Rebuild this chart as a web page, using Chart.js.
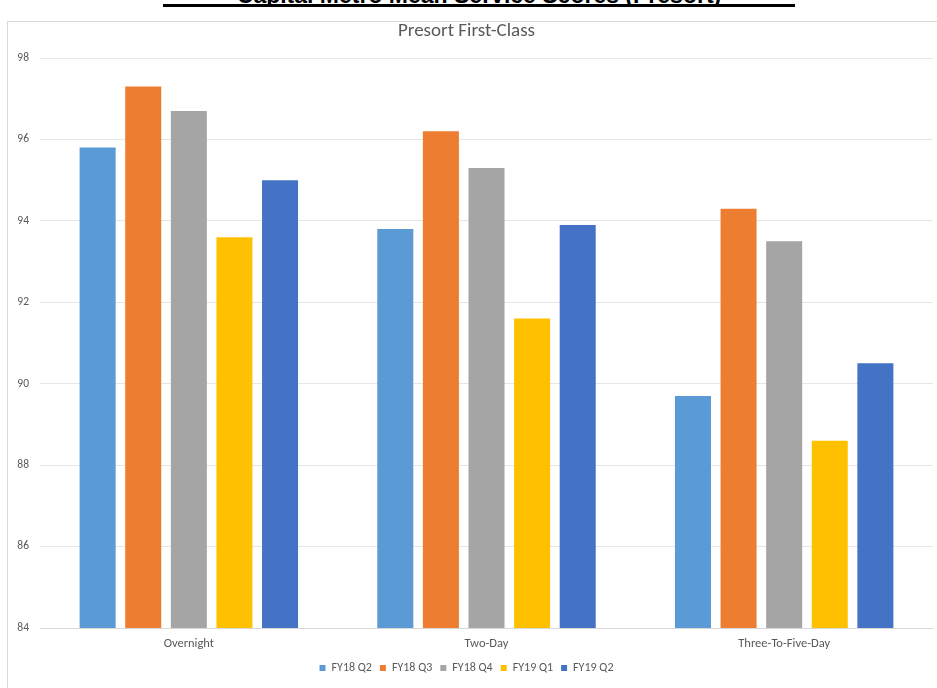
<!DOCTYPE html>
<html>
<head>
<meta charset="utf-8">
<script src="https://cdn.jsdelivr.net/npm/chart.js@4.4.1/dist/chart.umd.min.js"></script>
<style>
  html, body { margin: 0; padding: 0; background: #ffffff; overflow: hidden; }
  body { width: 937px; height: 688px; position: relative; }
  #frame { position: absolute; left: 7px; top: 21px; width: 940px; height: 680px;
           border-left: 1px solid #d9d9d9; border-top: 1px solid #d9d9d9; box-sizing: border-box; }
  #cut { position: absolute; left: 163px; top: 0; width: 632px; height: 4px; overflow: hidden;
         border-bottom: 3px solid #000; box-sizing: content-box; }
  #cut span { position: absolute; left: 0; width: 632px; bottom: -3px; text-align: center;
              font: bold 23px "Liberation Sans", Arial, sans-serif; color: #000; white-space: nowrap; line-height: 23px; }
  #wrap { position: absolute; left: 0; top: 0; width: 937px; height: 688px; }
</style>
</head>
<body>
<div id="frame"></div>
<div id="cut"><span>Capital Metro Mean Service Scores (Presort)</span></div>
<div id="wrap"><canvas id="c" width="937" height="688"></canvas></div>
<script>
const categories = ['Overnight', 'Two-Day', 'Three-To-Five-Day'];
const seriesNames = ['FY18 Q2', 'FY18 Q3', 'FY18 Q4', 'FY19 Q1', 'FY19 Q2'];
const fy18q2 = [95.8, 93.8, 89.7];
const fy18q3 = [97.3, 96.2, 94.3];
const fy18q4 = [96.7, 95.3, 93.5];
const fy19q1 = [93.6, 91.6, 88.6];
const fy19q2 = [95.0, 93.9, 90.5];
const yMin = 84, yMax = 98, yStep = 2;
const chartTitle = 'Presort First-Class';

const colors = ['#5B9BD5', '#ED7D31', '#A5A5A5', '#FFC000', '#4472C4'];
const values = [fy18q2, fy18q3, fy18q4, fy19q1, fy19q2];
const font = '"Carlito", "Lato", "Liberation Sans", sans-serif';
const textColor = '#595959';

new Chart(document.getElementById('c'), {
  type: 'bar',
  data: {
    labels: categories,
    datasets: values.map((v, i) => ({
      label: seriesNames[i],
      data: v,
      backgroundColor: colors[i],
      borderWidth: 0,
      categoryPercentage: 0.766,
      barPercentage: 0.79
    }))
  },
  options: {
    responsive: false,
    animation: false,
    devicePixelRatio: 1,
    layout: { padding: { left: 0, right: 4, top: 0, bottom: 4 } },
    plugins: {
      title: {
        display: true, text: chartTitle, color: textColor,
        font: { family: font, size: 19, weight: 'normal' },
        padding: { top: 19.6, bottom: 15.6 }
      },
      legend: {
        position: 'bottom',
        labels: {
          color: textColor, boxWidth: 6, boxHeight: 6, padding: 8,
          font: { family: font, size: 12 }
        }
      },
      tooltip: { enabled: false }
    },
    scales: {
      x: {
        afterFit: s => { s.height = 26; },
        grid: { display: false, drawTicks: false },
        border: { display: true, color: '#d9d9d9' },
        ticks: { color: textColor, font: { family: font, size: 12.5 }, padding: 8 }
      },
      y: {
        min: yMin, max: yMax,
        afterFit: s => { s.width = 40; },
        grid: { color: '#e6e6e6', drawTicks: false },
        border: { display: false },
        ticks: { stepSize: yStep, color: textColor, font: { family: font, size: 11.5 }, padding: 11 }
      }
    }
  }
});
</script>
</body>
</html>
